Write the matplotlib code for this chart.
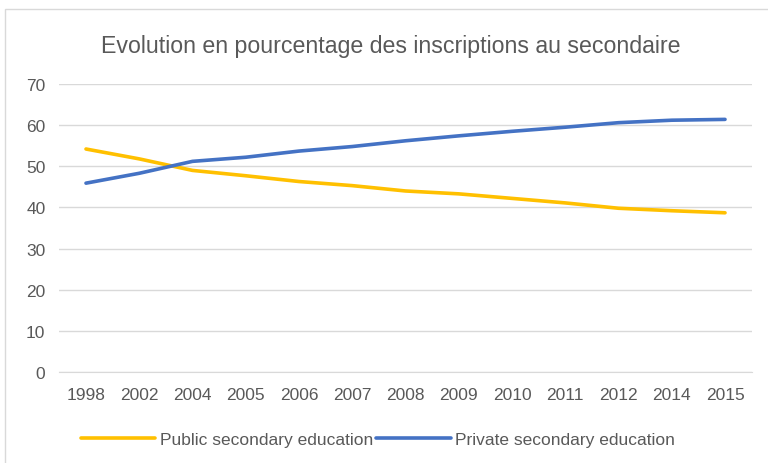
import matplotlib.pyplot as plt
from matplotlib.patches import Rectangle
import numpy as np

plt.rcParams['font.family'] = ['Liberation Sans', 'DejaVu Sans']

# Data
years = ["1998", "2002", "2004", "2005", "2006", "2007", "2008",
         "2009", "2010", "2011", "2012", "2014", "2015"]
public = [54.2, 51.8, 49.0, 47.7, 46.3, 45.3, 44.0, 43.3, 42.2, 41.1, 39.8, 39.2, 38.7]
private = [45.9, 48.3, 51.2, 52.2, 53.7, 54.8, 56.2, 57.4, 58.5, 59.5, 60.6, 61.2, 61.4]
yticks = [0, 10, 20, 30, 40, 50, 60, 70]

fig = plt.figure(figsize=(7.68, 4.64), dpi=100)
ax = fig.add_axes([0.0773, 0.1961, 0.9014, 0.6207])

# chart frame (Excel style border)
fig.patches.append(Rectangle((5 / 768, -0.1), 1.2, 1.1 - 10 / 464, transform=fig.transFigure,
                             fill=False, edgecolor="#D9D9D9", linewidth=1))

x = np.arange(len(years))
ax.plot(x, public, color="#FFC000", linewidth=2.6, solid_capstyle="round",
        solid_joinstyle="round", label="Public secondary education")
ax.plot(x, private, color="#4472C4", linewidth=2.6, solid_capstyle="round",
        solid_joinstyle="round", label="Private secondary education")

ax.set_xlim(-0.5, len(years) - 0.5)
ax.set_ylim(0, 70)
ax.set_yticks(yticks)
ax.set_xticks(x)
ax.set_xticklabels(years)
ax.grid(axis="y", color="#D9D9D9", linewidth=1)
ax.set_axisbelow(True)
for s in ["top", "right", "left"]:
    ax.spines[s].set_visible(False)
ax.spines["bottom"].set_color("#D9D9D9")
ax.tick_params(axis="both", length=0, labelsize=12.5, labelcolor="#595959")
ax.tick_params(axis="y", pad=10)
ax.tick_params(axis="x", pad=11)

fig.text(0.509, 1 - 46 / 464, "Evolution en pourcentage des inscriptions au secondaire",
         ha="center", va="center", fontsize=16.7, color="#595959")

fig.legend(loc="center", bbox_to_anchor=(0.492, 1 - 440 / 464), ncol=2, frameon=False,
           fontsize=12.5, labelcolor="#595959", handlelength=4.3, handletextpad=0.25,
           columnspacing=0.2)

fig.savefig("out.png", dpi=100)
